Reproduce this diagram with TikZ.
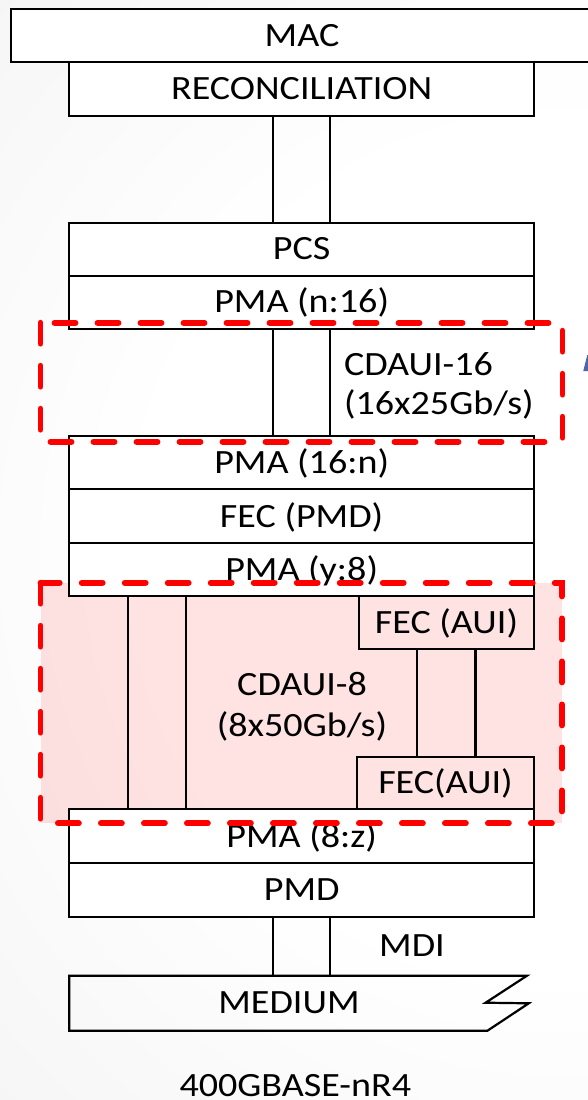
\documentclass[tikz,border=0pt]{standalone}
\usepackage{fontspec}
\setmainfont{Carlito}
\usepackage{graphicx}
\newcommand\sx[1]{\scalebox{1.12}[1]{#1}}
\definecolor{bggray}{RGB}{238,238,238}
\definecolor{bgedge}{RGB}{228,228,228}
\definecolor{hlred}{RGB}{255,0,0}
\definecolor{bluefrag}{RGB}{80,100,170}
\pgfdeclareradialshading{bgshade}{\pgfpoint{0bp}{0bp}}{color(0bp)=(white); color(10bp)=(white); color(27bp)=(bggray); color(50bp)=(bgedge); color(75bp)=(bgedge)}
\begin{document}
\begin{tikzpicture}[x=1pt,y=-1pt,
  txt/.style={font=\fontsize{34}{40}\selectfont, inner sep=0pt, outer sep=0pt},
  layer/.style={txt, draw=black, line width=2.2pt, fill=white, anchor=north west,
    minimum width=464.7pt, text height=21.5pt, text depth=0pt},
  fecbox/.style={layer, fill=none},
  pipe/.style={draw=black, line width=2.2pt},
  boxline/.style={draw=black, line width=2.2pt},
  hlbox/.style={draw=hlred, line width=5.8pt, dash pattern=on 21pt off 22pt, line cap=round},
  hlfill/.style={fill=hlred, fill opacity=0.11}]
\useasboundingbox (0,0) rectangle (588,1100);
\clip (0,0) rectangle (588,1100);
% background
\shade[shading=bgshade] (-480,-500) rectangle (1600,1600);
% pink highlight region (behind the layers)
\fill[hlfill] (40.5,582.7) rectangle (562,823.3);
% layers
\node[layer, minimum width=582pt, minimum height=52.7pt] (mac) at (11,9) {\sx{MAC}};
\node[layer, minimum height=54.3pt] (recon) at (69.3,61.7) {\sx{RECONCILIATION}};
\node[layer, minimum height=53pt] (pcs) at (69.3,222.7) {\sx{PCS}};
\node[layer, minimum height=53pt] (pmaa) at (69.3,275.7) {\sx{PMA (n:16)}};
\node[layer, minimum height=53.3pt] (pmab) at (69.3,436) {\sx{PMA (16:n)}};
\node[layer, minimum height=54pt] (fecpmd) at (69.3,489.3) {\sx{FEC (PMD)}};
\node[layer, minimum height=52.7pt] (pmac) at (69.3,543.3) {\sx{PMA (y:8)}};
\node[fecbox, minimum width=175pt, minimum height=53.3pt] (fecauia) at (359,596) {\sx{FEC (AUI)}};
\node[fecbox, minimum width=177pt, minimum height=52.6pt] (fecauib) at (357,756.7) {\sx{FEC(AUI)}};
\node[layer, minimum height=54pt] (pmad) at (69.3,809.3) {\sx{PMA (8:z)}};
\node[layer, minimum height=53.4pt] (pmd) at (69.3,863.3) {\sx{PMD}};
% medium
\draw[boxline] (69.3,975.7) -- (527,975.7) -- (485.6,1002.7) -- (528.7,1003.3) -- (487.5,1030.7) -- (69.3,1030.7) -- cycle;
\coordinate (medtop) at (301.65,975.7);
\node[txt, anchor=base] (medium) at (289,1013.3) {\sx{MEDIUM}};
% connectors (pipes)
\draw[pipe] ([xshift=-28.7pt]recon.south) rectangle ([xshift=28.7pt]pcs.north);
\draw[pipe] ([xshift=-28.7pt]pmaa.south) rectangle ([xshift=28.7pt]pmab.north);
\draw[pipe] ([xshift=-173.65pt]pmac.south) rectangle ([xshift=-116.05pt]pmad.north);
\draw[pipe] ([xshift=-29.5pt]fecauia.south) rectangle ([xshift=30pt]fecauib.north);
\draw[pipe] ([xshift=-28.7pt]pmd.south) rectangle ([xshift=28.7pt]medtop);
% labels
\node[txt, anchor=base west] (cdsixa) at (344,375) {\sx{CDAUI-16}};
\node[txt, anchor=base west] (cdsixb) at (344,414) {\sx{(16x25Gb/s)}};
\node[txt, anchor=base] (cdeighta) at (302,695) {\sx{CDAUI-8}};
\node[txt, anchor=base] (cdeightb) at (302,736.7) {\sx{(8x50Gb/s)}};
\node[txt, anchor=base] (mdi) at (412,956.7) {\sx{MDI}};
\node[txt, anchor=base] (title) at (295.3,1096.3) {\sx{400GBASE-nR4}};
% dashed highlight boxes
\draw[hlbox] (40.5,322.7) rectangle (562.5,441.7);
\draw[hlbox] (40.5,582.7) rectangle (562,823.3);
% fragment at right edge
\fill[bluefrag] (583.3,371) -- (587.3,355) -- (589,355) -- (589,371) -- cycle;
\end{tikzpicture}
\end{document}
